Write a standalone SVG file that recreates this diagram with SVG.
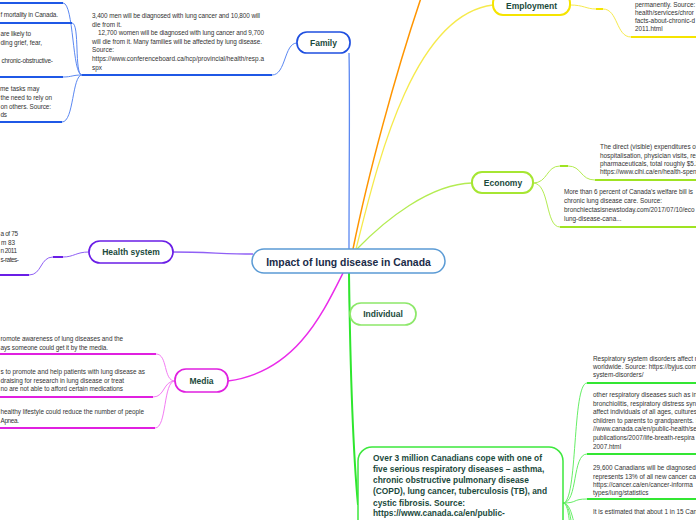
<svg xmlns="http://www.w3.org/2000/svg" width="696" height="520" viewBox="0 0 696 520">
<style>
.t{font-family:"Liberation Sans",Arial,sans-serif;font-size:6.4px;fill:#333}
.n{font-family:"Liberation Sans",Arial,sans-serif;font-size:8.5px;font-weight:700;fill:#1b4a3c;text-anchor:middle}
.b{font-family:"Liberation Sans",Arial,sans-serif;font-size:8.4px;font-weight:700;fill:#1b4a3c}
.box{fill:#fff;stroke-width:1.7}
.c{fill:none;stroke-width:1}
.u{fill:none;stroke-width:2}
.blue{stroke:#5b88f2}.blueU{stroke:#1f58e6}
.yel{stroke:#f6ea4c}.yelU{stroke:#f5e400}
.lime{stroke:#b4ec52}.limeU{stroke:#9fe322}
.pur{stroke:#9060f5}.purU{stroke:#6a1ee6}
.mag{stroke:#f37cf3}.magU{stroke:#e020e0}
.grn{stroke:#66ee66}.grnU{stroke:#33e633}
</style>
<rect width="696" height="520" fill="#fff"/>
<g id="connectors">
  <path class="c blue" d="M349,249 C349,170 350,95 349,53" style="stroke-width:1.3"/>
  <path class="c blue" d="M297,43 C284,43 286,75 272,75"/>
  <path class="u blueU" d="M82,75 H272"/>
  <path class="c blue" d="M82,75 C72,75 74,3 63,3"/>
  <path class="u blueU" d="M0,3 H63"/>
  <path class="c blue" d="M82,75 C74,75 80,23 72,23"/>
  <path class="u blueU" d="M0,23 H72"/>
  <path class="c blue" d="M82,75 C72,75 72,77 63,77"/>
  <path class="u blueU" d="M0,77 H63"/>
  <path class="c blue" d="M82,75 C72,75 74,122 62,122"/>
  <path class="u blueU" d="M0,122 H62"/>
  <path class="c" d="M353,249 C368,175 395,75 421,-2" style="stroke:#ff9500;stroke-width:1.5"/>
  <path class="c yel" d="M356,249 C375,175 410,15 493,5" style="stroke-width:1.3"/>
  <path class="c yel" d="M570,5 C584,5 586,9 596,9"/>
  <path class="u yelU" d="M596,9 H603"/>
  <path class="c yel" d="M603,9 C618,9 616,37 631,37"/>
  <path class="u yelU" d="M631,37 H696"/>
  <path class="c lime" d="M357,249 C385,220 430,184 472,183" style="stroke-width:1.3"/>
  <path class="c lime" d="M533,183 C548,183 546,166 560,166"/>
  <path class="u limeU" d="M560,166 H568"/>
  <path class="c lime" d="M568,166 C582,166 580,180 595,180"/>
  <path class="u limeU" d="M595,180 H696"/>
  <path class="c lime" d="M533,183 C550,183 545,227 560,227"/>
  <path class="u limeU" d="M560,227 H696"/>
  <path class="c pur" d="M173,252 C205,252 225,254 253,254" style="stroke-width:1.3"/>
  <path class="c pur" d="M89,252 C76,252 74,257 63,257"/>
  <path class="u purU" d="M53,257 H63"/>
  <path class="c pur" d="M53,257 C40,257 42,275 29,275"/>
  <path class="u purU" d="M0,275 H29"/>
  <path class="c" d="M343,273 C322,315 295,372 228,381" style="stroke:#ea2cea;stroke-width:1.5"/>
  <path class="c mag" d="M175,381 C163,381 168,354 156,354"/>
  <path class="u magU" d="M0,354 H156"/>
  <path class="c mag" d="M175,381 C163,381 165,397 153,397"/>
  <path class="u magU" d="M0,397 H153"/>
  <path class="c mag" d="M175,381 C163,381 167,428 155,428"/>
  <path class="u magU" d="M0,428 H155"/>
  <path class="c" d="M349,273 C349,290 349,305 350,314" style="stroke:#9ae87a"/>
  <path class="c" d="M349,273 C350,350 352,440 358,505" style="stroke:#2ee62e;stroke-width:2"/>
  <path class="c grn" d="M563,503 C578,503 572,383 587,383"/>
  <path class="u grnU" d="M587,383 H696"/>
  <path class="c grn" d="M563,503 C578,503 572,454 587,454"/>
  <path class="u grnU" d="M587,454 H696"/>
  <path class="c grn" d="M563,503 C578,503 572,499 587,499"/>
  <path class="u grnU" d="M587,499 H696"/>
  <path class="c grn" d="M563,503 C575,503 572,540 587,545"/>
  <path class="c grn" d="M563,503 C575,503 570,560 585,580"/>
  <path class="c grn" d="M563,503 C574,503 568,580 583,620"/>
</g>

<g id="center">
  <rect class="box" x="252" y="249" width="193" height="24" rx="12" style="stroke:#5b9bd5;stroke-width:1.5"/>
  <text x="348.5" y="265.7" style="font-family:'Liberation Sans',Arial,sans-serif;font-size:10.4px;font-weight:700;fill:#1a2b48;text-anchor:middle">Impact of lung disease in Canada</text>
</g>

<g id="family">
  <rect class="box" x="297" y="32" width="53" height="21" rx="10" style="stroke:#1f4fe0"/>
  <text class="n" x="323.5" y="46">Family</text>
</g>
<g id="family-main">
  <text class="t" x="92" y="18" textLength="168">3,400 men will be diagnosed with lung cancer and 10,800 will</text>
  <text class="t" x="92" y="26.6">die from it.</text>
  <text class="t" x="98" y="35.2" textLength="166">12,700 women will be diagnosed with lung cancer and 9,700</text>
  <text class="t" x="92" y="43.8" textLength="170">will die from it. Many families will be affected by lung disease.</text>
  <text class="t" x="92" y="52.4">Source:</text>
  <text class="t" x="92" y="61" textLength="172">https://www.conferenceboard.ca/hcp/provincial/health/resp.a</text>
  <text class="t" x="92" y="69.6">spx</text>
</g>
<g id="family-c1">
  <text class="t" x="0.5" y="17" textLength="57.5">f mortality in Canada.</text>
</g>
<g id="family-c2">
  <text class="t" x="0.5" y="36" textLength="30.5">are likely to</text>
  <text class="t" x="0.5" y="45" textLength="41.5">ding grief, fear,</text>
  <text class="t" x="1.5" y="63" textLength="51.5">chronic-obstructive-</text>
</g>
<g id="family-c3">
  <text class="t" x="0" y="91">me tasks may</text>
  <text class="t" x="0.5" y="100" textLength="51.5">the need to rely on</text>
  <text class="t" x="0.5" y="109" textLength="50.5">on others. Source:</text>
  <text class="t" x="0.5" y="117" textLength="6.5">ds</text>
</g>

<g id="employment">
  <rect class="box" x="493" y="-7" width="77" height="22" rx="10" style="stroke:#f5e400;stroke-width:2"/>
  <text class="n" x="531.5" y="8.5">Employment</text>
</g>
<g id="employment-c1">
  <text class="t" x="635" y="7">permanently. Source:</text>
  <text class="t" x="635" y="15">health/services/chror</text>
  <text class="t" x="635" y="23">facts-about-chronic-d</text>
  <text class="t" x="635" y="30.5">2011.html</text>
</g>

<g id="economy">
  <rect class="box" x="472" y="172" width="61" height="21" rx="10" style="stroke:#a6e632;stroke-width:2"/>
  <text class="n" x="503" y="186">Economy</text>
</g>
<g id="economy-c1">
  <text class="t" x="600" y="149">The direct (visible) expenditures of</text>
  <text class="t" x="600" y="157.5">hospitalisation, physician visits, res</text>
  <text class="t" x="600" y="166">pharmaceuticals, total roughly $5.2</text>
  <text class="t" x="600" y="174">https://www.cihi.ca/en/health-spen</text>
</g>
<g id="economy-c2">
  <text class="t" x="564" y="194" textLength="129">More than 6 percent of Canada's welfare bill is</text>
  <text class="t" x="564" y="203">chronic lung disease care. Source:</text>
  <text class="t" x="564" y="212">bronchiectasisnewstoday.com/2017/07/10/eco</text>
  <text class="t" x="564" y="221">lung-disease-cana...</text>
</g>

<g id="health-system">
  <rect class="box" x="89" y="241" width="84" height="22" rx="11" style="stroke:#6a1ee6"/>
  <text class="n" x="131" y="255">Health system</text>
</g>
<g id="health-c1">
  <text class="t" x="0.5" y="236" textLength="17.5">a of 75</text>
  <text class="t" x="1" y="244.5" textLength="14">m 83</text>
  <text class="t" x="0.5" y="253" textLength="16.5">n 2011</text>
  <text class="t" x="0.5" y="261.5" textLength="18.5">s-rates-</text>
</g>

<g id="media">
  <rect class="box" x="175" y="369" width="53" height="23" rx="11" style="stroke:#e020e0"/>
  <text class="n" x="201.5" y="384">Media</text>
</g>
<g id="media-c1">
  <text class="t" x="0.5" y="341" textLength="122.5">romote  awareness of lung diseases and the</text>
  <text class="t" x="0.5" y="350" textLength="107.5">ays someone could get it by the media.</text>
</g>
<g id="media-c2">
  <text class="t" x="0.5" y="374" textLength="144.5">s to promote and help patients with lung disease as</text>
  <text class="t" x="0.5" y="383" textLength="123.5">draising for research in lung disease or treat</text>
  <text class="t" x="0.5" y="391" textLength="122.5">no are not able to afford certain medications</text>
</g>
<g id="media-c3">
  <text class="t" x="0.5" y="414" textLength="143.5">healthy lifestyle could reduce the number of people</text>
  <text class="t" x="0.5" y="423" textLength="18.5">Apnea.</text>
</g>

<g id="individual">
  <rect class="box" x="350" y="303" width="66" height="22" rx="11" style="stroke:#8de86a"/>
  <text class="n" x="383" y="317">Individual</text>
</g>

<g id="respiratory">
  <rect class="box" x="358" y="447" width="205" height="100" rx="14" style="stroke:#3de83d;stroke-width:1.5"/>
  <text class="b" x="373" y="461.3" textLength="169">Over 3 million Canadians cope with one of</text>
  <text class="b" x="373" y="472.3">five serious respiratory diseases – asthma,</text>
  <text class="b" x="373" y="483.3">chronic obstructive pulmonary disease</text>
  <text class="b" x="373" y="494.3">(COPD), lung cancer, tuberculosis (TB), and</text>
  <text class="b" x="373" y="505.5">cystic fibrosis. Source:</text>
  <text class="b" x="373" y="516.3">https://www.canada.ca/en/public-</text>
</g>
<g id="resp-c1">
  <text class="t" x="593" y="361">Respiratory system disorders affect m</text>
  <text class="t" x="593" y="369">worldwide. Source: https://byjus.com</text>
  <text class="t" x="593" y="376.5">system-disorders/</text>
</g>
<g id="resp-c2">
  <text class="t" x="593" y="397">other respiratory diseases such as int</text>
  <text class="t" x="593" y="405.5">bronchiolitis, respiratory distress syn</text>
  <text class="t" x="593" y="414">affect individuals of all ages, cultures</text>
  <text class="t" x="593" y="422.5">children to parents to grandparents. S</text>
  <text class="t" x="593" y="431">//www.canada.ca/en/public-health/se</text>
  <text class="t" x="593" y="439.5">publications/2007/life-breath-respira</text>
  <text class="t" x="593" y="448.5">2007.html</text>
</g>
<g id="resp-c3">
  <text class="t" x="593" y="470">29,600 Canadians will be diagnosed w</text>
  <text class="t" x="593" y="478.5">represents 13% of all new cancer cas</text>
  <text class="t" x="593" y="486.5">https://cancer.ca/en/cancer-informa</text>
  <text class="t" x="593" y="495">types/lung/statistics</text>
</g>
<g id="resp-c4">
  <text class="t" x="593" y="514">It is estimated that about 1 in 15 Cana</text>
</g>
</svg>
